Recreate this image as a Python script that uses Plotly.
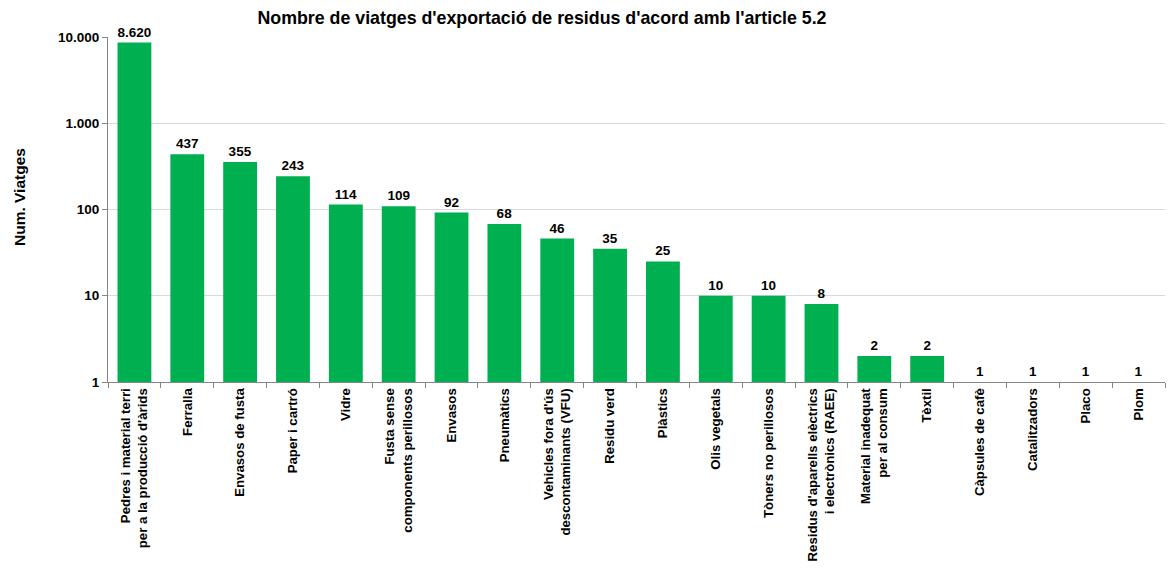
import plotly.graph_objects as go

categories = [
    "Pedres i material terri<br>per a la producció d'àrids",
    "Ferralla",
    "Envasos de fusta",
    "Paper i cartró",
    "Vidre",
    "Fusta sense<br>components perillosos",
    "Envasos",
    "Pneumàtics",
    "Vehicles fora d'ús<br>descontaminants (VFU)",
    "Residu verd",
    "Plàstics",
    "Olis vegetals",
    "Tòners no perillosos",
    "Residus d'aparells elèctrics<br>i electrònics (RAEE)",
    "Material inadequat<br>per al consum",
    "Tèxtil",
    "Càpsules de cafè",
    "Catalitzadors",
    "Placo",
    "Plom",
]
values = [8620, 437, 355, 243, 114, 109, 92, 68, 46, 35, 25, 10, 10, 8, 2, 2, 1, 1, 1, 1]
tick_vals = [1, 10, 100, 1000, 10000]
tick_text = ["1", "10", "100", "1.000", "10.000"]

font_family = "Liberation Sans, Arial, sans-serif"

fig = go.Figure(go.Bar(
    x=categories,
    y=values,
    marker=dict(color="#00B050", line=dict(width=0)),
    text=[f"{v:,}".replace(",", ".") for v in values],
    texttemplate="%{text}",
    textposition="outside",
    cliponaxis=False,
    textfont=dict(family=font_family, size=13.5, color="black", weight="bold"),
))

fig.update_layout(
    width=1171, height=570,
    margin=dict(l=108, r=6, t=37, b=188, autoexpand=False),
    paper_bgcolor="white", plot_bgcolor="white",
    bargap=0.36,
    showlegend=False,
    title=dict(
        text="Nombre de viatges d'exportació de residus d'acord amb l'article 5.2",
        x=542 / 1171, xref="container", xanchor="center",
        y=1 - 18 / 570, yanchor="middle",
        font=dict(family=font_family, size=17.8, color="black", weight="bold"),
    ),
    font=dict(family=font_family, color="black"),
    annotations=[dict(
        text="Num. Viatges", textangle=-90,
        xref="paper", yref="paper",
        x=-(108 - 20) / (1171 - 108 - 6), y=(570 - 188 - 197) / (570 - 37 - 188),
        xanchor="center", yanchor="middle", showarrow=False,
        font=dict(family=font_family, size=15.5, color="black", weight="bold"),
    )],
)

fig.update_yaxes(
    type="log", range=[0, 4],
    tickvals=tick_vals, ticktext=tick_text,
    tickfont=dict(family=font_family, size=13.5, color="black", weight="bold"),
    showgrid=True, gridcolor="#D9D9D9", gridwidth=1,
    showline=True, linecolor="#868686", linewidth=1,
    ticks="outside", ticklen=5, tickcolor="#868686",
    zeroline=False, automargin=False,
)

fig.update_xaxes(
    tickangle=-90,
    tickfont=dict(family=font_family, size=13.2, color="black", weight="bold"),
    showline=True, linecolor="#868686", linewidth=1,
    ticks="outside", ticklen=5, tickcolor="#868686", tickson="boundaries",
    showgrid=False, automargin=False,
)

fig.write_html("out.html", config={"displayModeBar": False},
               post_script="document.body.style.margin='0';")
